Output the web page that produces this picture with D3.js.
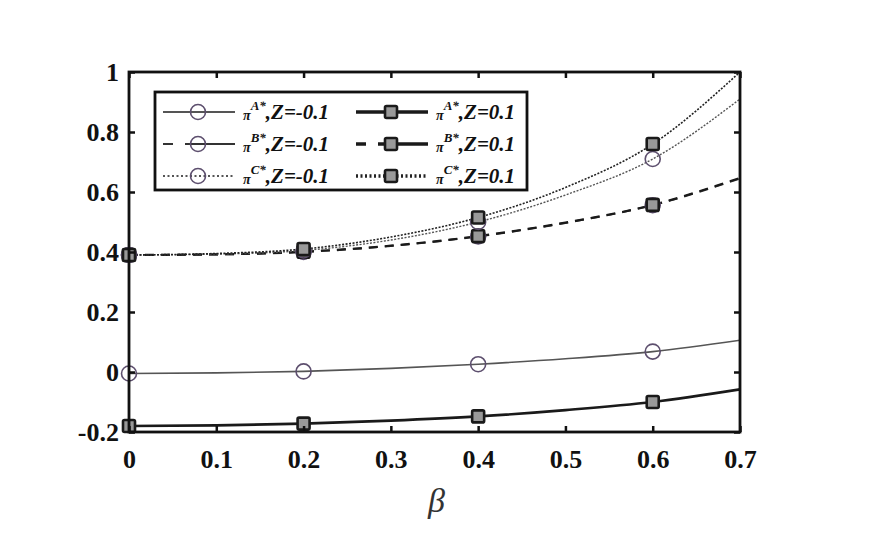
<!DOCTYPE html>
<meta charset="utf-8">
<style>
body { margin: 0; background: #fff; }
</style>
<body>
<div id="chart"></div>
<script src="https://d3js.org/d3.v7.min.js"></script>
<script>
// beta grid and curve values
var betas = [0, 0.1, 0.2, 0.3, 0.4, 0.5, 0.6, 0.7];
var markerBetas = [0, 0.2, 0.4, 0.6];
var xTicks = [0, 0.1, 0.2, 0.3, 0.4, 0.5, 0.6, 0.7];
var yTicks = [-0.2, 0, 0.2, 0.4, 0.6, 0.8, 1];

var piA_neg = [-0.005, -0.003, 0.002, 0.012, 0.026, 0.044, 0.068, 0.106];
var piA_pos = [-0.18, -0.178, -0.172, -0.162, -0.148, -0.127, -0.10, -0.058];
var piB_neg = [0.39, 0.392, 0.40, 0.42, 0.452, 0.497, 0.556, 0.645];
var piB_pos = [0.39, 0.392, 0.401, 0.421, 0.453, 0.498, 0.557, 0.647];
var piC_neg = [0.39, 0.393, 0.405, 0.44, 0.50, 0.59, 0.71, 0.91];
var piC_pos = [0.39, 0.395, 0.41, 0.45, 0.515, 0.615, 0.76, 1.0];

var series = [
  {name: "A", z: "-0.1", vals: piA_neg, dash: null, width: 1.6, color: "#555", marker: "circle"},
  {name: "A", z: "0.1", vals: piA_pos, dash: null, width: 2.6, color: "#1a1a1a", marker: "square"},
  {name: "B", z: "-0.1", vals: piB_neg, dash: "9,7", width: 2, color: "#333", marker: "circle"},
  {name: "B", z: "0.1", vals: piB_pos, dash: "9,7", width: 2.2, color: "#1a1a1a", marker: "square"},
  {name: "C", z: "-0.1", vals: piC_neg, dash: "2,1.5", width: 1.4, color: "#555", marker: "circle"},
  {name: "C", z: "0.1", vals: piC_pos, dash: "2,1.5", width: 1.6, color: "#222", marker: "square"}
];

var serif = "'Liberation Serif', 'DejaVu Serif', serif";

var W = 874, H = 534;
var margin = {top: 72, right: 134, bottom: 102, left: 129};
var width = W - margin.left - margin.right,
    height = H - margin.top - margin.bottom;

var svg = d3.select("#chart").append("svg")
  .attr("width", W).attr("height", H)
  .append("g")
  .attr("transform", "translate(" + margin.left + "," + margin.top + ")");

var x = d3.scaleLinear().domain([0, 0.7]).range([0, width]);
var y = d3.scaleLinear().domain([-0.2, 1]).range([height, 0]);

svg.append("clipPath").attr("id", "clip")
  .append("rect").attr("width", width).attr("height", height);

var line = d3.line()
  .x(function(d) { return x(d[0]); })
  .y(function(d) { return y(d[1]); })
  .curve(d3.curveMonotoneX);

var plot = svg.append("g").attr("clip-path", "url(#clip)");

series.forEach(function(s) {
  var pts = betas.map(function(b, i) { return [b, s.vals[i]]; });
  plot.append("path")
    .datum(pts)
    .attr("fill", "none")
    .attr("stroke", s.color)
    .attr("stroke-width", s.width)
    .attr("stroke-dasharray", s.dash)
    .attr("d", line);
});

function drawMarker(g, type, cx, cy) {
  if (type === "circle") {
    g.append("circle").attr("cx", cx).attr("cy", cy).attr("r", 7.5)
      .attr("fill", "none").attr("stroke", "#5d4f6e").attr("stroke-width", 1.6);
  } else {
    g.append("rect").attr("x", cx - 6).attr("y", cy - 6).attr("width", 12).attr("height", 12)
      .attr("rx", 1.5)
      .attr("fill", "#999").attr("stroke", "#1a1a1a").attr("stroke-width", 2.6);
  }
}

var marks = svg.append("g");
series.forEach(function(s) {
  markerBetas.forEach(function(b) {
    var i = betas.indexOf(b);
    drawMarker(marks, s.marker, x(b), y(s.vals[i]));
  });
});

function fmt(d) { return d === 0 || d === 1 ? String(d) : d.toFixed(1); }

// axes with inward ticks on all four sides
svg.append("g").attr("class", "xax").attr("transform", "translate(0," + height + ")")
  .call(d3.axisBottom(x).tickValues(xTicks).tickSize(-6).tickPadding(18).tickFormat(fmt));
svg.append("g").attr("class", "yax")
  .call(d3.axisLeft(y).tickValues(yTicks).tickSize(-6).tickPadding(10).tickFormat(fmt));
svg.append("g")
  .call(d3.axisTop(x).tickValues(xTicks).tickSize(-6).tickFormat(""));
svg.append("g").attr("transform", "translate(" + width + ",0)")
  .call(d3.axisRight(y).tickValues(yTicks).tickSize(-6).tickFormat(""));
svg.selectAll(".domain").remove();
svg.selectAll(".tick line").attr("stroke", "#111").attr("stroke-width", 2.5);
svg.selectAll(".tick text")
  .style("font-family", serif).style("font-weight", "bold")
  .style("font-size", "26px")
  .style("fill", "#111");

svg.append("rect").attr("width", width).attr("height", height)
  .attr("fill", "none").attr("stroke", "#111").attr("stroke-width", 2.8);

svg.append("text")
  .attr("x", width / 2 + 2).attr("y", height + 80)
  .attr("text-anchor", "middle")
  .style("font-family", serif)
  .style("font-style", "italic")
  .style("font-size", "34px")
  .style("fill", "#333")
  .text("β");

// legend
var legend = svg.append("g")
  .attr("transform", "translate(" + (155 - margin.left) + "," + (92 - margin.top) + ")");
legend.append("rect").attr("width", 372).attr("height", 98)
  .attr("fill", "#fff").attr("stroke", "#111").attr("stroke-width", 2.8);

var order = [0, 2, 4, 1, 3, 5];
order.forEach(function(si, k) {
  var s = series[si];
  var col = Math.floor(k / 3), row = k % 3;
  var lx = 8 + col * 193, ly = 20 + row * 32;
  legend.append("line")
    .attr("x1", lx).attr("x2", lx + 72).attr("y1", ly).attr("y2", ly)
    .attr("stroke", s.color)
    .attr("stroke-width", s.marker === "square" ? 3.4 : 2)
    .attr("stroke-dasharray", s.dash === "9,7" ? "10,12,50,12,10" : (s.dash ? "2,2.5" : null));
  drawMarker(legend, s.marker, lx + 35, ly);
  var t = legend.append("text").attr("x", lx + 80).attr("y", ly + 8)
    .style("font-family", serif).style("font-style", "italic").style("font-weight", "bold")
    .style("fill", "#111");
  t.append("tspan").style("font-size", "14px").text("π");
  t.append("tspan").attr("dy", -10).style("font-size", "13px").text(s.name + "*");
  t.append("tspan").attr("dy", 9).style("font-size", "21px").text(",Z=" + s.z);
});
</script>
</body>
